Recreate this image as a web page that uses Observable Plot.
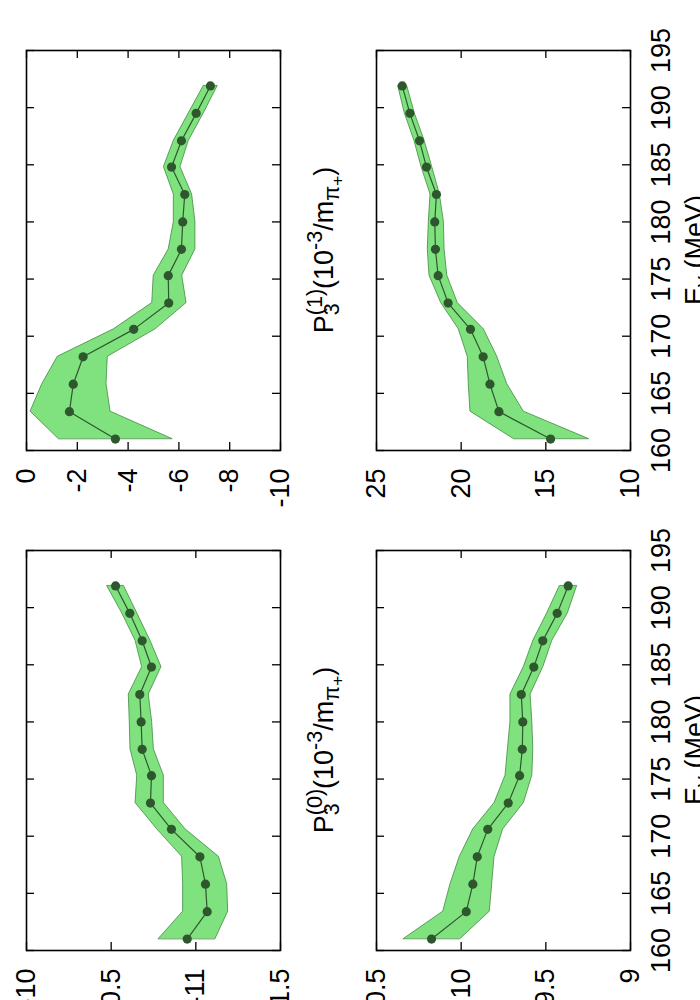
<!DOCTYPE html>
<html><head><meta charset="utf-8">
<script src="https://cdn.jsdelivr.net/npm/d3@7"></script>
<script src="https://cdn.jsdelivr.net/npm/@observablehq/plot@0.6"></script>
<style>
html,body{margin:0;padding:0;background:#fff;}
#chart{position:relative;width:700px;height:1000px;overflow:hidden;background:#fff;}
#chart svg{position:absolute;overflow:visible;}
</style></head><body><div id="chart"></div>
<script>
// photon energy E_gamma (MeV), shared by all panels
const energy = [161.0, 163.4, 165.8, 168.2, 170.6, 172.9, 175.3, 177.6, 180.0, 182.4, 184.8, 187.1, 189.5, 191.9];
const energyTicks = [160, 165, 170, 175, 180, 185, 190, 195];

// top-left panel
const aValue = [-3.50, -1.69, -1.84, -2.23, -4.22, -5.60, -5.58, -6.10, -6.15, -6.23, -5.71, -6.10, -6.68, -7.24];
const aUpper = [-1.27, -0.16, -0.62, -1.23, -3.44, -4.95, -5.01, -5.60, -5.80, -5.80, -5.41, -5.80, -6.39, -6.98];
const aLower = [-5.74, -3.31, -3.15, -3.20, -5.08, -6.30, -6.13, -6.65, -6.65, -6.52, -6.06, -6.39, -6.98, -7.53];
const aTicks = [0, -2, -4, -6, -8, -10];

// top-right panel
const bValue = [14.72, 17.77, 18.30, 18.70, 19.45, 20.77, 21.36, 21.52, 21.56, 21.46, 22.05, 22.46, 23.03, 23.48];
const bUpper = [16.89, 19.45, 19.55, 19.61, 20.14, 21.18, 21.87, 21.97, 21.91, 21.81, 22.34, 22.76, 23.33, 23.72];
const bLower = [12.46, 16.30, 17.28, 17.87, 18.66, 20.20, 20.82, 20.98, 21.02, 21.26, 21.71, 22.16, 22.74, 23.19];
const bTicks = [25, 20, 15, 10];

// bottom-left panel
const cValue = [-10.949, -11.067, -11.057, -11.024, -10.856, -10.732, -10.738, -10.683, -10.677, -10.669, -10.738, -10.683, -10.610, -10.526];
const cUpper = [-10.781, -10.925, -10.925, -10.919, -10.772, -10.644, -10.654, -10.614, -10.610, -10.604, -10.683, -10.644, -10.565, -10.476];
const cLower = [-11.116, -11.191, -11.185, -11.136, -10.939, -10.811, -10.811, -10.752, -10.742, -10.722, -10.797, -10.732, -10.654, -10.575];
const cTicks = [-10, -10.5, -11, -11.5];

// bottom-right panel
const dValue = [10.175, 9.970, 9.931, 9.905, 9.843, 9.722, 9.655, 9.639, 9.636, 9.645, 9.571, 9.518, 9.433, 9.368];
const dUpper = [10.339, 10.106, 10.063, 10.008, 9.929, 9.803, 9.738, 9.724, 9.709, 9.709, 9.630, 9.574, 9.492, 9.417];
const dLower = [10.004, 9.831, 9.817, 9.803, 9.752, 9.630, 9.580, 9.574, 9.580, 9.590, 9.515, 9.462, 9.370, 9.315];
const dTicks = [10.5, 10, 9.5, 9];

const FONT = "'Liberation Sans', Arial, Helvetica, sans-serif";
const FS = 27;
const container = document.getElementById("chart");

function panel({values, upper, lower, ticks, left, top, title, showEnergy}) {
  const data = energy.map((e, i) => ({e, v: values[i], hi: upper[i], lo: lower[i]}));
  const W = 350, H = 500, mL = 26, mR = 70, mT = 50, mB = 50;
  const fw = W - mL - mR, fh = H - mT - mB, tk = 8;
  const marks = [
    Plot.areaX(data, {y: "e", x1: "lo", x2: "hi", fill: "#80e27e", stroke: "#3f8a3f", strokeWidth: 0.8}),
    Plot.line(data, {x: "v", y: "e", stroke: "#2e572e", strokeWidth: 1.2}),
    Plot.dot(data, {x: "v", y: "e", r: 4.6, fill: "#2e572e", stroke: "none"}),
    Plot.ruleX(ticks, {insetBottom: fh - tk, stroke: "black", strokeWidth: 1.3}),
    Plot.ruleX(ticks, {insetTop: fh - tk, stroke: "black", strokeWidth: 1.3}),
    Plot.ruleY(energyTicks, {insetRight: fw - tk, stroke: "black", strokeWidth: 1.3}),
    Plot.ruleY(energyTicks, {insetLeft: fw - tk, stroke: "black", strokeWidth: 1.3}),
    Plot.frame({stroke: "black", strokeWidth: 1.6}),
    Plot.text(ticks, {x: d => d, text: d => String(d), frameAnchor: "bottom", rotate: -90,
      textAnchor: "end", lineAnchor: "middle", dy: 18, fontSize: FS, fill: "black"})
  ];
  if (showEnergy) {
    marks.push(Plot.text(energyTicks, {y: d => d, text: d => String(d), frameAnchor: "right", rotate: -90,
      textAnchor: "middle", lineAnchor: "top", dx: 20, fontSize: FS, fill: "black"}));
  }
  const svg = Plot.plot({
    width: W, height: H,
    marginLeft: mL, marginRight: mR, marginTop: mT, marginBottom: mB,
    x: {domain: [ticks[0], ticks[ticks.length - 1]], axis: null},
    y: {domain: [160, 195], axis: null},
    style: {background: "transparent", fontFamily: FONT, fontSize: FS + "px", overflow: "visible"},
    marks
  });
  svg.style.left = left + "px";
  svg.style.top = top + "px";
  container.appendChild(svg);
  const s = d3.select(svg);
  if (title) {
    const t = s.append("text")
      .attr("transform", `translate(333,250) rotate(-90)`)
      .attr("text-anchor", "middle")
      .attr("font-family", FONT).attr("font-size", FS).attr("fill", "black");
    t.append("tspan").text("P");
    t.append("tspan").attr("font-size", FS * 0.8).attr("dy", 6).text("3");
    t.append("tspan").attr("font-size", FS * 0.8).attr("dx", -12).attr("dy", -17).text(title);
    t.append("tspan").attr("dy", 11).text("(10");
    t.append("tspan").attr("font-size", FS * 0.8).attr("dy", -11).text("-3");
    t.append("tspan").attr("dy", 11).text("/m");
    t.append("tspan").attr("font-size", FS * 0.8).attr("dy", 6).text("π");
    t.append("tspan").attr("font-size", FS * 0.64).attr("dy", 4).text("+");
    t.append("tspan").attr("dy", -10).text(")");
  }
  if (showEnergy) {
    const t = s.append("text")
      .attr("transform", `translate(354,250) rotate(-90)`)
      .attr("text-anchor", "middle")
      .attr("font-family", FONT).attr("font-size", FS).attr("fill", "black");
    t.append("tspan").text("E");
    t.append("tspan").attr("font-size", FS * 0.8).attr("dy", 6).text("γ");
    t.append("tspan").attr("dy", -6).text(" (MeV)");
  }
}

panel({values: aValue, upper: aUpper, lower: aLower, ticks: aTicks, left: 0, top: 0, title: "(1)", showEnergy: false});
panel({values: bValue, upper: bUpper, lower: bLower, ticks: bTicks, left: 350, top: 0, title: null, showEnergy: true});
panel({values: cValue, upper: cUpper, lower: cLower, ticks: cTicks, left: 0, top: 500, title: "(0)", showEnergy: false});
panel({values: dValue, upper: dUpper, lower: dLower, ticks: dTicks, left: 350, top: 500, title: null, showEnergy: true});
</script></body></html>
